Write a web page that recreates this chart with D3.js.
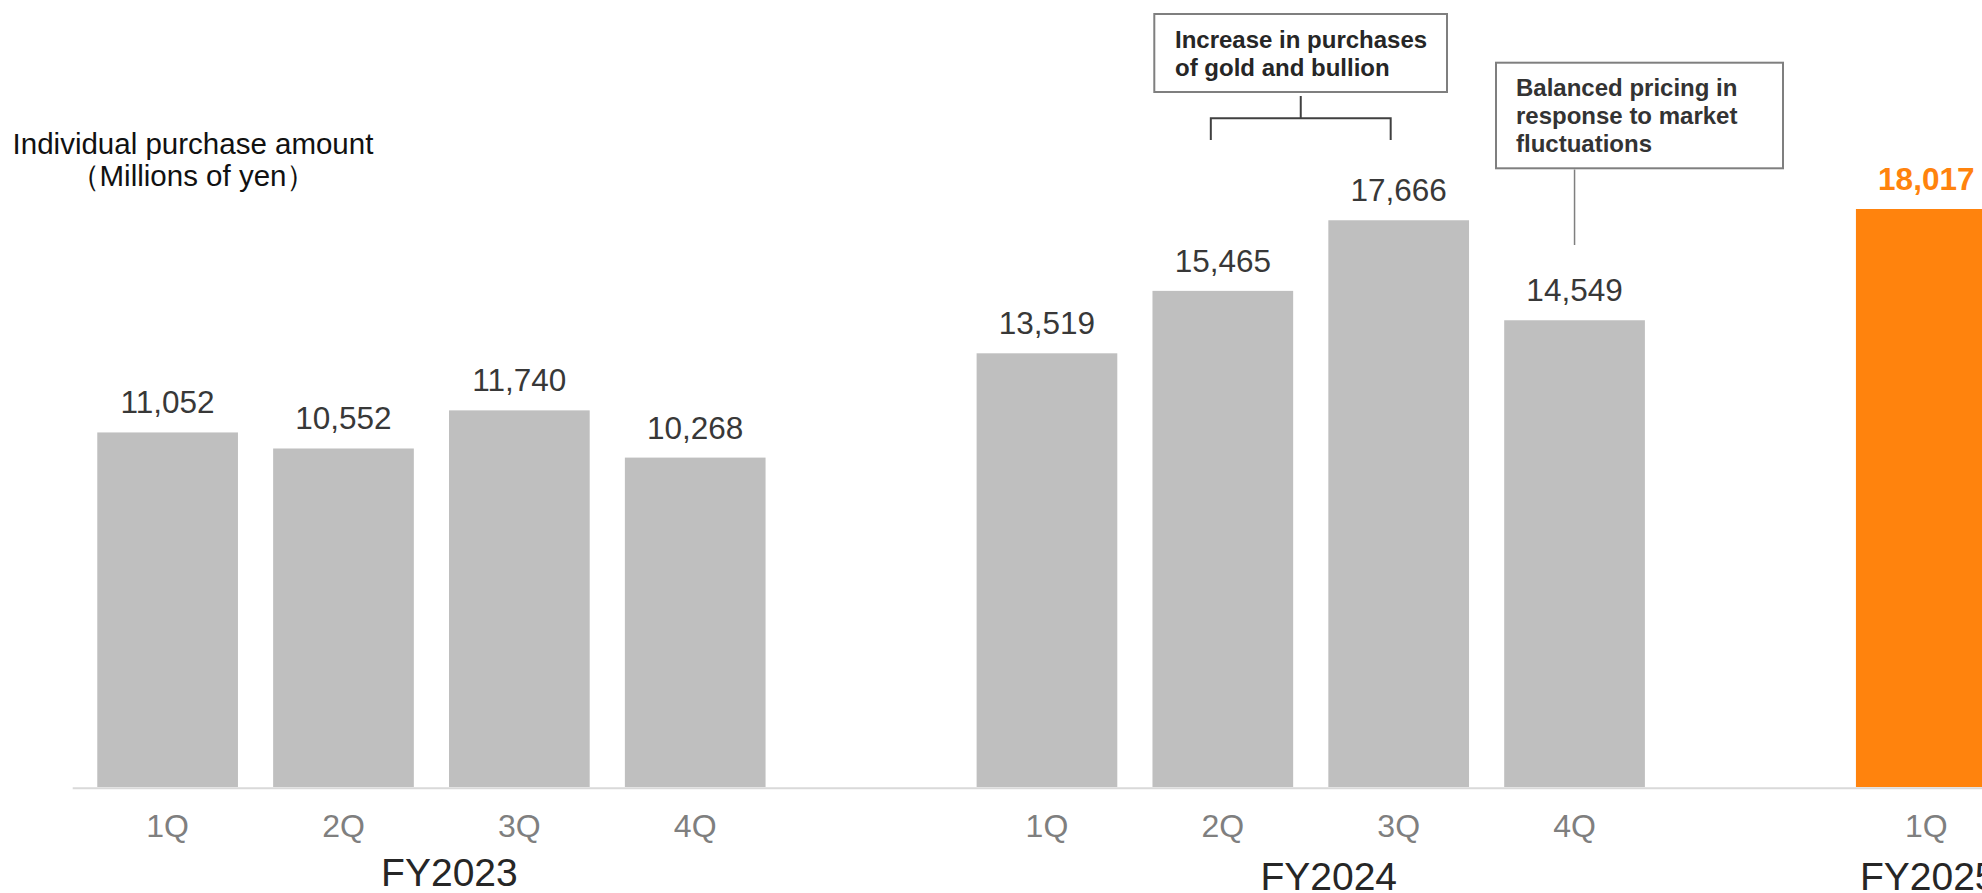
<!DOCTYPE html>
<html>
<head>
<meta charset="utf-8">
<script src="https://cdn.jsdelivr.net/npm/d3@7"></script>
<style>
  html, body { margin: 0; padding: 0; background: #fff; overflow: hidden; }
  svg { display: block; font-family: "Liberation Sans", Arial, sans-serif; }
</style>
</head>
<body>
<div id="chart"></div>
<script>
// data
var fiscalYears = ["FY2023", "FY2024", "FY2025"];
var barYears = ["FY2023", "FY2023", "FY2023", "FY2023", "FY2024", "FY2024", "FY2024", "FY2024", "FY2025"];
var barQuarters = ["1Q", "2Q", "3Q", "4Q", "1Q", "2Q", "3Q", "4Q", "1Q"];
var amounts = [11052, 10552, 11740, 10268, 13519, 15465, 17666, 14549, 18017];
var titleLines = ["Individual purchase amount", "\uff08Millions of yen\uff09"];
var noteGold = ["Increase in purchases", "of gold and bullion"];
var notePricing = ["Balanced pricing in", "response to market", "fluctuations"];

var W = 1982, H = 893;
var baseY = 787;

var bars = amounts.map(function (v, i) {
    return { key: barYears[i] + "-" + barQuarters[i], year: barYears[i], q: barQuarters[i], value: v, latest: i === amounts.length - 1 };
});

// slots: each year's quarters, then an empty slot before the next year
var slots = [];
fiscalYears.forEach(function (fy, i) {
    bars.filter(function (d) { return d.year === fy; }).forEach(function (d) { slots.push(d.key); });
    if (i < fiscalYears.length - 1) slots.push("gap-" + fy);
});

var svg = d3.select("#chart").append("svg")
    .attr("width", W)
    .attr("height", H);

var x = d3.scaleBand()
    .domain(slots)
    .range([62.1, 2031.8])
    .paddingInner(0.2)
    .paddingOuter(0.2);

var y = d3.scaleLinear()
    .domain([0, 18017])
    .range([baseY, 209]);

var fmt = d3.format(",");
var grey = "#bfbfbf", orange = "#ff830d";

// title
svg.append("text")
    .attr("x", 193)
    .attr("y", 154)
    .style("text-anchor", "middle")
    .style("font-size", "29.5px")
    .style("fill", "#111")
    .selectAll("tspan")
    .data(titleLines)
    .enter().append("tspan")
    .attr("x", 193)
    .attr("dy", function (d, i) { return i ? 32 : 0; })
    .text(function (d) { return d; });

// bars
svg.append("g").attr("class", "bars")
    .selectAll("rect")
    .data(bars)
    .enter().append("rect")
    .attr("x", function (d) { return x(d.key); })
    .attr("y", function (d) { return y(d.value); })
    .attr("width", x.bandwidth())
    .attr("height", function (d) { return baseY - y(d.value); })
    .style("fill", function (d) { return d.latest ? orange : grey; });

// value labels
svg.append("g").attr("class", "values")
    .selectAll("text")
    .data(bars)
    .enter().append("text")
    .attr("x", function (d) { return x(d.key) + x.bandwidth() / 2; })
    .attr("y", function (d) { return y(d.value) - 19; })
    .style("text-anchor", "middle")
    .style("font-size", "31.5px")
    .style("font-weight", function (d) { return d.latest ? "bold" : "normal"; })
    .style("fill", function (d) { return d.latest ? orange : "#383838"; })
    .text(function (d) { return fmt(d.value); });

// baseline
svg.append("line")
    .attr("x1", 72.7).attr("x2", W)
    .attr("y1", baseY + 1.3).attr("y2", baseY + 1.3)
    .style("stroke", "#d9d9d9")
    .style("stroke-width", 2);

// quarter ticks
svg.append("g").attr("class", "axis axis--x")
    .selectAll("text")
    .data(bars)
    .enter().append("text")
    .attr("x", function (d) { return x(d.key) + x.bandwidth() / 2; })
    .attr("y", 837)
    .style("text-anchor", "middle")
    .style("font-size", "32px")
    .style("fill", "#7f7f7f")
    .text(function (d) { return d.q; });

// fiscal year labels
svg.append("g").attr("class", "years")
    .selectAll("text")
    .data(fiscalYears)
    .enter().append("text")
    .attr("x", function (fy) {
        var keys = bars.filter(function (d) { return d.year === fy; }).map(function (d) { return d.key; });
        var x0 = x(keys[0]), x1 = x(keys[keys.length - 1]) + x.bandwidth();
        var nudge = keys.length > 1 ? 18 : 2;
        return (x0 + x1) / 2 + nudge;
    })
    .attr("y", function (fy, i) { return i === 0 ? 886 : 890; })
    .style("text-anchor", "middle")
    .style("font-size", "39px")
    .style("fill", "#262626")
    .text(function (d) { return d; });

// annotation: gold and bullion (2Q-3Q FY2024)
var g2 = x("FY2024-2Q") + x.bandwidth() / 2 - 12;
var g3 = x("FY2024-3Q") + x.bandwidth() / 2 - 8;
var gm = (g2 + g3) / 2;
var note1 = svg.append("g").attr("class", "note");
note1.append("rect")
    .attr("x", 1154.3).attr("y", 14)
    .attr("width", 292.7).attr("height", 78)
    .style("fill", "#fff")
    .style("stroke", "#7f7f7f")
    .style("stroke-width", 2);
note1.append("path")
    .attr("d", "M" + gm + ",96V118.3M" + g2 + ",140V118.3H" + g3 + "V140")
    .style("fill", "none")
    .style("stroke", "#404040")
    .style("stroke-width", 2);
note1.append("text")
    .style("font-size", "24px")
    .style("font-weight", "bold")
    .style("fill", "#262626")
    .selectAll("tspan")
    .data(noteGold)
    .enter().append("tspan")
    .attr("x", 1175)
    .attr("y", function (d, i) { return 47.7 + i * 28.5; })
    .text(function (d) { return d; });

// annotation: pricing (4Q FY2024)
var p4 = x("FY2024-4Q") + x.bandwidth() / 2;
var note2 = svg.append("g").attr("class", "note");
note2.append("rect")
    .attr("x", 1496).attr("y", 62.7)
    .attr("width", 287).attr("height", 105.6)
    .style("fill", "#fff")
    .style("stroke", "#7f7f7f")
    .style("stroke-width", 2);
note2.append("line")
    .attr("x1", p4).attr("x2", p4)
    .attr("y1", 169.5).attr("y2", 245)
    .style("stroke", "#7f7f7f")
    .style("stroke-width", 1.5);
note2.append("text")
    .style("font-size", "24px")
    .style("font-weight", "bold")
    .style("fill", "#333")
    .selectAll("tspan")
    .data(notePricing)
    .enter().append("tspan")
    .attr("x", 1516)
    .attr("y", function (d, i) { return 95.7 + i * 28; })
    .text(function (d) { return d; });
</script>
</body>
</html>
